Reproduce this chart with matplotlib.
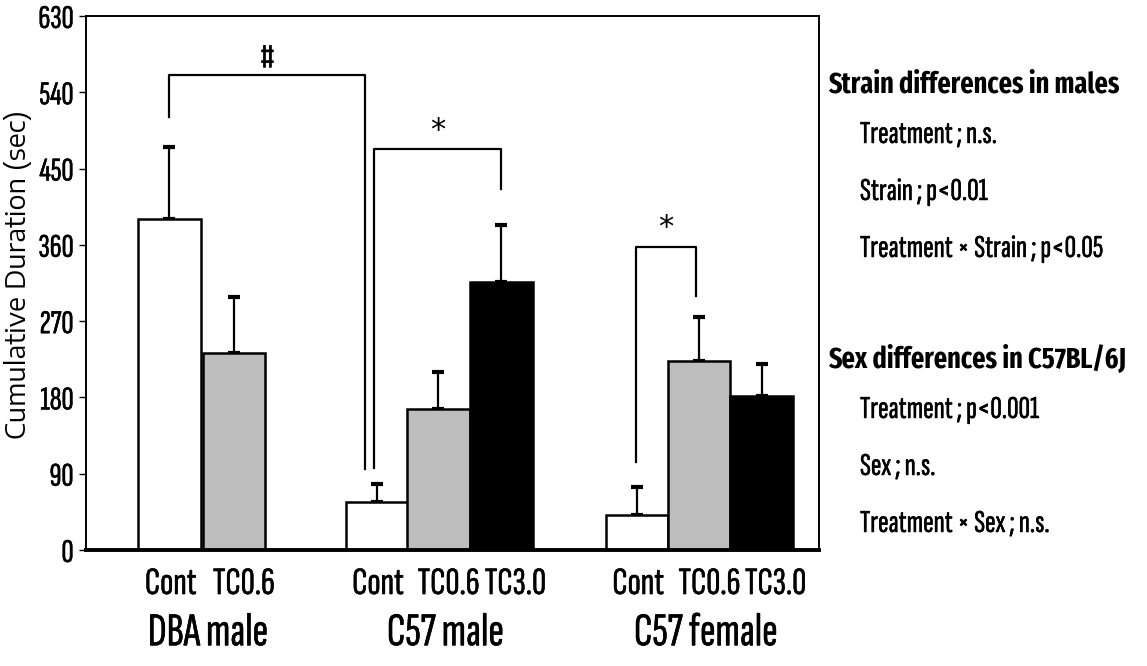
import matplotlib
matplotlib.use("Agg")
import matplotlib.pyplot as plt
import matplotlib.patheffects as pe

# --- Data ---
groups = ["DBA male", "C57 male", "C57 female"]
treatments = [["Cont", "TC0.6"], ["Cont", "TC0.6", "TC3.0"], ["Cont", "TC0.6", "TC3.0"]]
means = [[390, 233], [57, 166, 316], [41, 223, 182]]
sems = [[86, 65], [21, 44, 68], [33, 52, 37]]
bar_pos = [[0, 1.02], [3.29, 4.27, 5.27], [7.42, 8.41, 9.40]]
fills = {"Cont": "white", "TC0.6": "#bdbdbd", "TC3.0": "black"}
label_shift = {"Cont": 0.02, "TC0.6": 0.16, "TC3.0": 0.22}
yticks = [0, 90, 180, 270, 360, 450, 540, 630]

# significance brackets: (x_left, y_left_bottom, x_right, y_right_bottom, y_top, label)
brackets = [
    (0.0, 511, 3.11, 96, 560, "#"),
    (3.25, 97, 5.27, 426, 473, "*"),
    (7.40, 104, 8.36, 300, 358, "*"),
]

stats_heads = ["Strain differences in males", "Sex differences in C57BL/6J"]
stats_lines = [
    ["Treatment ; n.s.", "Strain ; p<0.01", "Treatment \u00d7 Strain ; p<0.05"],
    ["Treatment ; p<0.001", "Sex ; n.s.", "Treatment \u00d7 Sex ; n.s."],
]

plt.rcParams["font.family"] = ["Sofia Sans Extra Condensed", "Fira Sans Extra Condensed", "DejaVu Sans"]
bold_font = ["Fira Sans Extra Condensed", "DejaVu Sans"]
wide = ["Encode Sans Semi Expanded", "DejaVu Sans"]
heavy = [pe.withStroke(linewidth=0.35, foreground="black")]

W, H = 1147, 666
fig = plt.figure(figsize=(W / 100, H / 100), dpi=100)
ax = fig.add_axes([86 / W, 1 - 550 / H, (819 - 86) / W, (550 - 16) / H])

for pos, m, s, trt in zip(bar_pos, means, sems, treatments):
    ax.bar(pos, m, width=0.99, color=[fills[t] for t in trt],
           edgecolor="black", linewidth=1.8, zorder=2)
    ax.errorbar(pos, m, yerr=[[0] * len(s), s], fmt="none", ecolor="black",
                elinewidth=1.6, capsize=4, capthick=3, zorder=1)

for xl, yl, xr, yr, yt, lab in brackets:
    ax.plot([xl, xl, xr, xr], [yl, yt, yt, yr], color="black", lw=1.6,
            clip_on=False, zorder=3)
    if lab == "*":
        ax.text((xl + xr) / 2, yt + 22, lab, ha="center", va="center",
                fontsize=22, family="DejaVu Sans", zorder=3)
    else:
        ax.text((xl + xr) / 2, yt + 20, lab, ha="center", va="center",
                fontsize=26, zorder=3, path_effects=heavy)

ax.set_xlim(-1.325, 10.31)
ax.set_ylim(0, 630)
ax.set_yticks(yticks)
ax.set_yticklabels([str(v) for v in yticks], fontsize=24)
ax.tick_params(axis="y", direction="out", length=5, width=1, pad=4)

xt, xl_ = [], []
for pos, trt in zip(bar_pos, treatments):
    xt += [p + label_shift[t] for p, t in zip(pos, trt)]
    xl_ += trt
ax.set_xticks(xt)
ax.set_xticklabels(xl_, fontsize=28)
ax.tick_params(axis="x", length=0, pad=13)
for t in ax.get_xticklabels() + ax.get_yticklabels():
    t.set_path_effects(heavy)

for pos, g in zip(bar_pos, groups):
    ax.text(sum(pos) / len(pos) + 0.1, -0.157, g, transform=ax.get_xaxis_transform(),
            ha="center", va="center", fontsize=34, path_effects=heavy)

for sp in ["left", "top", "right"]:
    ax.spines[sp].set_linewidth(1.4)
ax.spines["bottom"].set_linewidth(2.8)

fig.text(18 / W, 1 - 275 / H, "Cumulative Duration (sec)", rotation=90,
         ha="center", va="center", fontsize=19.5, family=wide)

# statistics panel on the right
head_y = [85, 360]
for hy, head, lines in zip(head_y, stats_heads, stats_lines):
    fig.text(828 / W, 1 - hy / H, head, ha="left", va="center",
             fontsize=20.5, fontweight="bold", family=bold_font)
    for i, line in enumerate(lines):
        fig.text(860 / W, 1 - (hy + 50 + 57 * i) / H, line, ha="left",
                 va="center", fontsize=23, path_effects=heavy)

fig.savefig("out.png", dpi=100)
